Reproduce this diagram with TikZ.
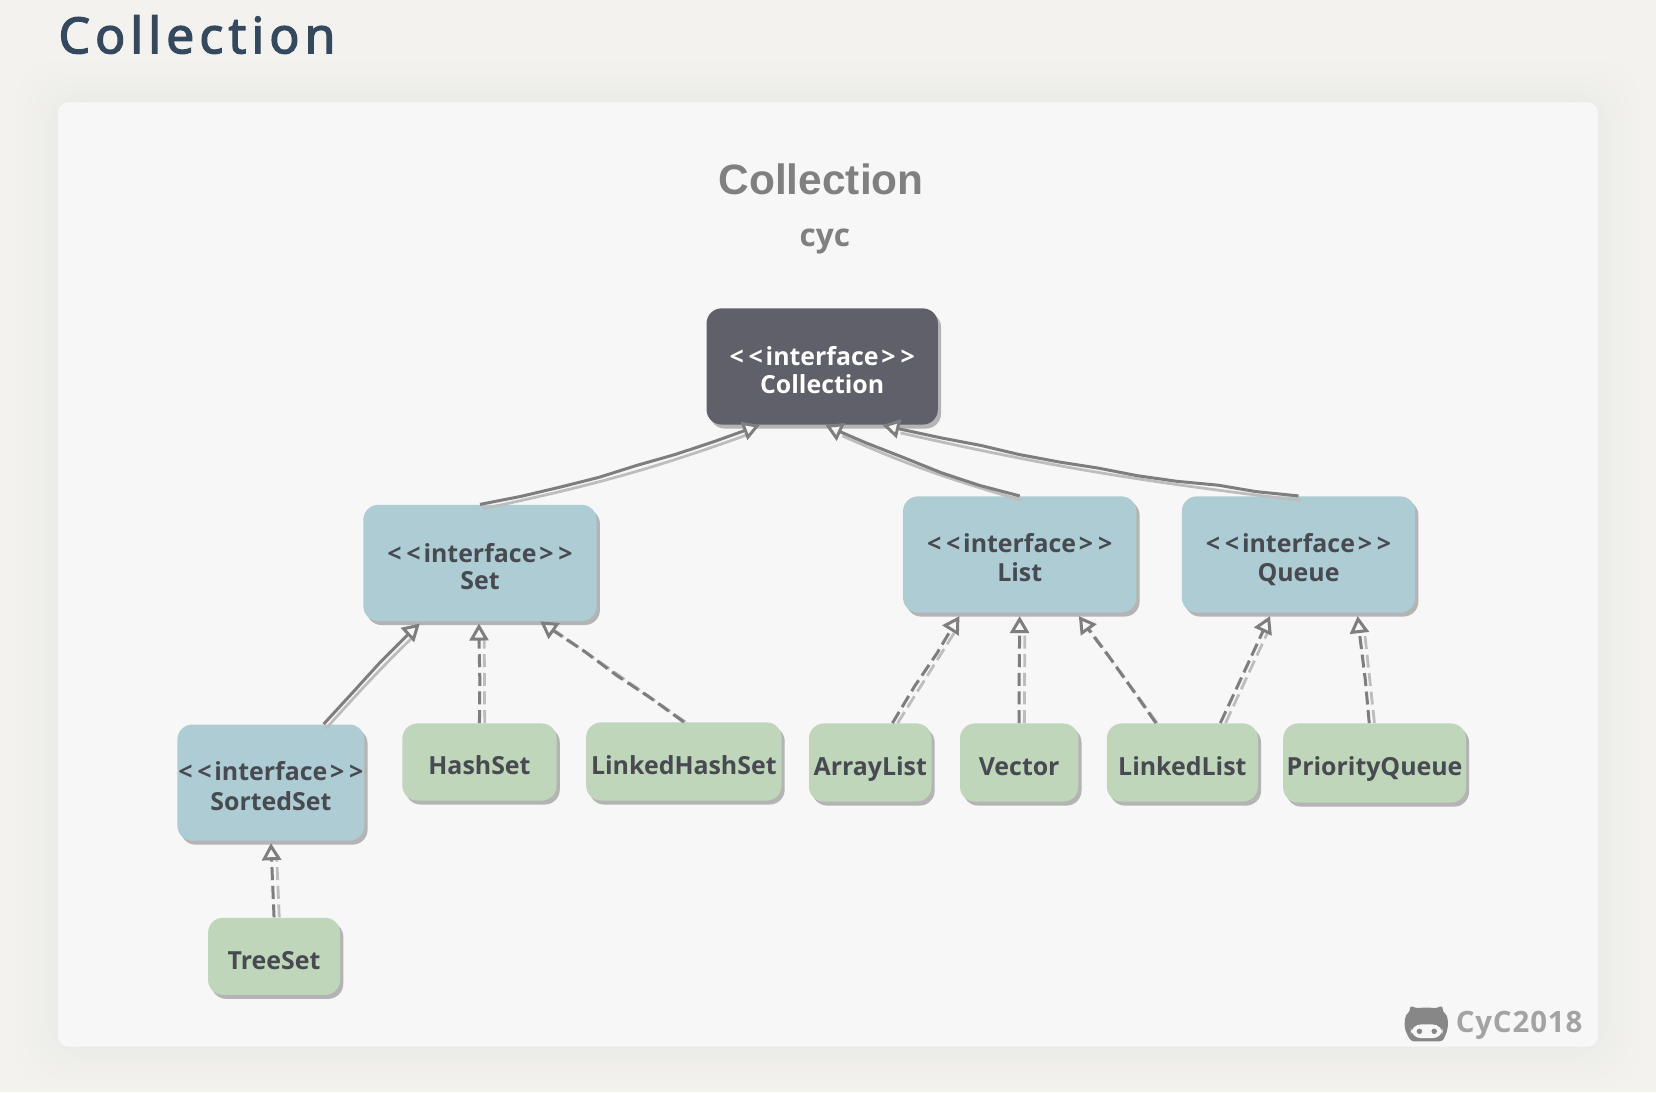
\documentclass[tikz,border=0pt]{standalone}
\usepackage{fontspec}
\usetikzlibrary{arrows.meta,calc,shadows,bending,decorations.pathmorphing}
\newfontfamily\headfont[LetterSpace=10,FakeBold=2.5]{Noto Sans}
\newfontfamily\boxfont{Open Sans}
\newfontfamily\arialfont{Liberation Sans}
\newfontfamily\authorfont{Open Sans}
\newfontfamily\markfont[LetterSpace=3]{Open Sans}
\definecolor{pagebg}{HTML}{F3F2EE}
\definecolor{cardshadow}{HTML}{EAEAE7}
\definecolor{cardbg}{HTML}{F7F7F7}
\definecolor{darkbox}{HTML}{5F6069}
\definecolor{bluebox}{HTML}{AECCD3}
\definecolor{greenbox}{HTML}{BFD6BA}
\definecolor{boxshadow}{HTML}{B4B4B4}
\definecolor{boxtext}{HTML}{474A50}
\definecolor{linkdark}{HTML}{7E7E7E}
\definecolor{linklight}{HTML}{BDBDBD}
\definecolor{headblue}{HTML}{34495E}
\newcommand{\boxline}[1]{\rule[-1.5pt]{0pt}{12.5pt}\smash{\raisebox{-1.7pt}{#1}}}
\newcommand{\iface}{\boxline{<\kern2.4pt<\kern1.4pt interface\kern1.4pt>\kern2.4pt>}}
\tikzset{
  x=0.528pt,y=-0.528pt,
  uml/.style 2 args={rectangle,rounded corners=7.5pt,inner sep=0pt,align=center,
    minimum width=#1*0.528pt,minimum height=#2*0.528pt,
    font=\boxfont\bfseries\fontsize{12.45}{14.6}\selectfont,text=boxtext,
    general shadow={shadow xshift=1.6pt,shadow yshift=-2pt,fill=boxshadow}},
  darkuml/.style={fill=darkbox,text=white},
  blueuml/.style={fill=bluebox},
  greenuml/.style={fill=greenbox},
  hollow/.style={-{Triangle[open,length=8.5pt,width=9.5pt,line width=1.5pt,fill=cardbg]}},
  wobble/.style={decorate,decoration={random steps,segment length=20pt,amplitude=0.55pt,post length=9pt,pre length=1pt}},
  linkmain/.style={draw=linkdark,line width=1.5pt,wobble},
  linkback/.style={draw=linklight,line width=1.4pt,shorten >=8pt},
  dashedlink/.style={dash pattern=on 6.5pt off 2.8pt},
}
\newcommand{\solidlink}[3][]{%
  \draw[linkback,transform canvas={xshift=1.2pt,yshift=-2.2pt},#1] #2 to #3;
  \draw[linkmain,hollow,#1] #2 to #3;}
\newcommand{\dashlink}[3][2.6pt]{%
  \draw[linkback,dashedlink,transform canvas={xshift=#1}] #2 to #3;
  \draw[linkmain,dashedlink,hollow] #2 to #3;}
\begin{document}
\begin{tikzpicture}
\pgfmathsetseed{2018}
\useasboundingbox (0,0) rectangle (1568,1034);
\fill[pagebg] (0,0) rectangle (1568,1034);
\foreach \g in {42,39,...,3}{
  \pgfmathsetmacro{\mixpct}{100*(1-\g/45)^1.5}
  \fill[cardshadow!\mixpct!pagebg,rounded corners=20pt] (55-\g,97-\g) rectangle (1513+\g,991+\g);
}
\fill[cardbg,rounded corners=5pt] (55,97) rectangle (1513,991);

\node[anchor=base west,inner sep=0pt,text=headblue,font=\headfont\fontsize{25}{30}\selectfont] (heading) at (55,50.5) {Collection};
\node[inner sep=0pt,text=black!50,font=\arialfont\bfseries\fontsize{21.2}{24}\selectfont] (dtitle) at (777.5,170) {Collection};
\node[anchor=base,inner sep=0pt,text=black!50,font=\authorfont\bfseries\fontsize{15.8}{18}\selectfont] (dauthor) at (781,233) {cyc};

\node[uml={219}{110},darkuml]  (coll) at (778.5,347) {\iface\\[-0.9pt]\boxline{Collection}};
\node[uml={221}{110},blueuml]  (set) at (454.5,533) {\iface\\[-0.9pt]\boxline{Set}};
\node[uml={221}{110},blueuml]  (list) at (965.5,525) {\iface\\\boxline{List}};
\node[uml={221}{110},blueuml]  (queue) at (1229.5,525) {\iface\\\boxline{Queue}};
\node[uml={177}{110},blueuml]  (sorted) at (256.5,741) {\iface\\\boxline{SortedSet}};
\node[uml={146}{73},greenuml]  (hash) at (454,721.5) {\boxline{HashSet}};
\node[uml={185}{74},greenuml]  (lhash) at (647.5,721) {\boxline{LinkedHashSet}};
\node[uml={116}{74},greenuml]  (alist) at (824,722) {\boxline{ArrayList}};
\node[uml={112}{74},greenuml]  (vector) at (965,722) {\boxline{Vector}};
\node[uml={143}{74},greenuml]  (llist) at (1119.5,722) {\boxline{LinkedList}};
\node[uml={173}{75},greenuml]  (pq) at (1301.5,722.5) {\boxline{PriorityQueue}};
\node[uml={125}{73},greenuml]  (tree) at (259.5,905.5) {\boxline{TreeSet}};

\solidlink[bend right=4]{(set.north)}{($(coll.south)+(-59,0)$)}
\solidlink[bend left=4]{(list.north)}{($(coll.south)+(3,0)$)}
\solidlink[bend left=3]{(queue.north)}{($(coll.south)+(57,0)$)}
\solidlink[bend left=2]{($(sorted.north)+(50,0)$)}{($(set.south)+(-57,2)$)}
\dashlink{(hash.north)}{($(set.south)+(-1,2)$)}
\dashlink[0.8pt]{(lhash.north)}{($(set.south)+(57,0)$)}
\dashlink{($(alist.north)+(21,0)$)}{($(list.south)+(-57,3)$)}
\dashlink{(vector.north)}{($(list.south)+(0,3)$)}
\dashlink[0.6pt]{($(llist.north)+(-25,0)$)}{($(list.south)+(56,3)$)}
\dashlink{($(llist.north)+(36,0)$)}{($(queue.south)+(-27,3)$)}
\dashlink{($(pq.north)+(-5,0)$)}{($(queue.south)+(56,3)$)}
\dashlink{(tree.north)}{($(sorted.south)+(0,2)$)}

% logo
\fill[black!47,rounded corners=1.5pt] (1331,977) .. controls (1329,966) and (1331,961) .. (1335,958) -- (1335,952) -- (1342,955) .. controls (1346,954) and (1355,954) .. (1359,955) -- (1366,952) -- (1366,958) .. controls (1370,961) and (1372,966) .. (1370,977) -- (1366,986) -- (1336,986) -- cycle;
\fill[cardbg,rounded corners=5pt] (1336,970) rectangle (1366,983);
\fill[black!47] (1344,976.5) circle[radius=2.6] (1358,976.5) circle[radius=2.6];
\node[anchor=west,inner sep=0pt,text=black!36,font=\markfont\bfseries\fontsize{14.7}{18}\selectfont] (mark) at (1378,971) {CyC2018};
\end{tikzpicture}
\end{document}
